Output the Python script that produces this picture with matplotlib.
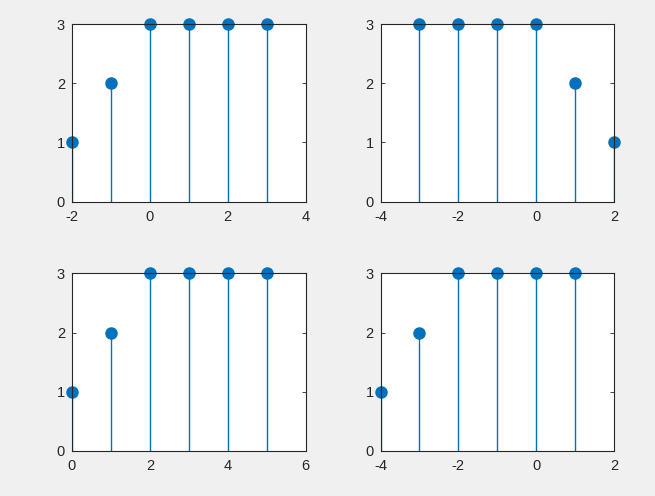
import matplotlib
matplotlib.use("Agg")
import matplotlib.pyplot as plt

plt.rcParams['font.family'] = ['Liberation Sans', 'DejaVu Sans']
plt.rcParams['axes.unicode_minus'] = False

x1 = [-2, -1, 0, 1, 2, 3]
y1 = [1, 2, 3, 3, 3, 3]
x2 = [-3, -2, -1, 0, 1, 2]
y2 = [3, 3, 3, 3, 2, 1]
x3 = [0, 1, 2, 3, 4, 5]
y3 = [1, 2, 3, 3, 3, 3]
x4 = [-4, -3, -2, -1, 0, 1]
y4 = [1, 2, 3, 3, 3, 3]

xlims = [(-2, 4), (-4, 2), (0, 6), (-4, 2)]
xticks = [[-2, 0, 2, 4], [-4, -2, 0, 2], [0, 2, 4, 6], [-4, -2, 0, 2]]
yticks = [0, 1, 2, 3]

fig = plt.figure(figsize=(6.55, 4.96), dpi=100)
fig.patch.set_facecolor('#f0f0f0')

W = 233.5 / 655
H = 177.7 / 496
positions = [
    (72 / 655, (496 - 201.7) / 496, W, H),
    (380.5 / 655, (496 - 201.7) / 496, W, H),
    (72 / 655, (496 - 451) / 496, W, H),
    (380.5 / 655, (496 - 451) / 496, W, H),
]
data = [(x1, y1), (x2, y2), (x3, y3), (x4, y4)]
color = '#0072BD'
for pos, (xs, ys), xl, xt in zip(positions, data, xlims, xticks):
    ax = fig.add_axes(pos)
    ax.set_facecolor('white')
    ml, sl, bl = ax.stem(xs, ys, basefmt=' ')
    sl.set_color(color)
    sl.set_linewidth(1.0)
    ml.set_color(color)
    ml.set_markersize(8)
    ml.set_clip_on(False)
    ax.set_xlim(*xl)
    ax.set_ylim(0, 3)
    ax.set_xticks(xt)
    ax.set_yticks(yticks)
    for s in ax.spines.values():
        s.set_color('#262626')
        s.set_linewidth(0.8)
    ax.tick_params(direction='in', length=3, width=0.6, colors='#262626',
                   labelsize=10.5, top=True, right=True)
    ax.tick_params(axis='x', pad=6)
    ax.tick_params(axis='y', pad=5)

fig.savefig('out.png', dpi=100, facecolor=fig.get_facecolor())
